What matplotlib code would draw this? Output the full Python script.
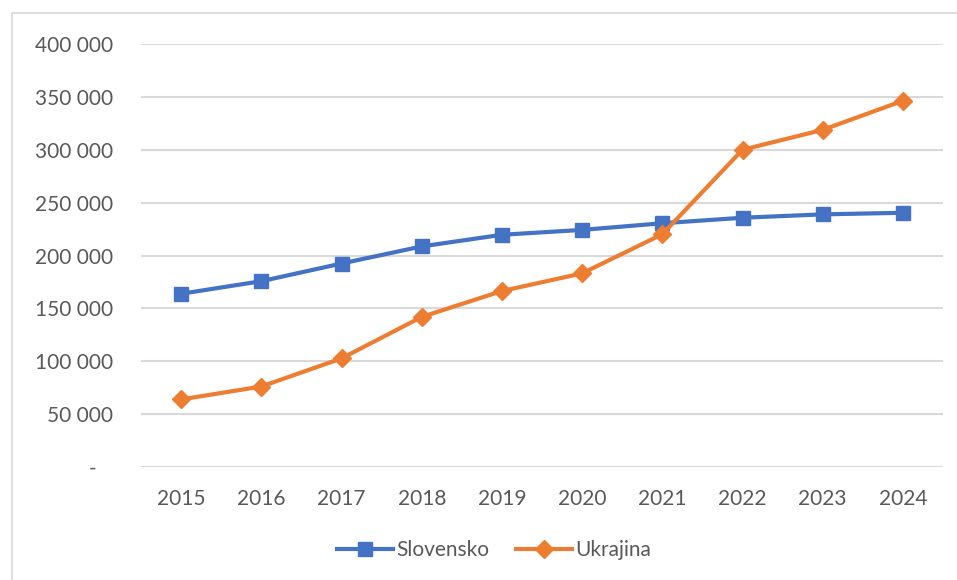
import matplotlib.pyplot as plt
from matplotlib.patches import Rectangle
from matplotlib.ticker import FuncFormatter
from matplotlib.lines import Line2D

years = ['2015', '2016', '2017', '2018', '2019', '2020', '2021', '2022', '2023', '2024']
slovensko = [163800, 175700, 192400, 208600, 219600, 224200, 230500, 235700, 238900, 240400]
ukrajina = [63900, 76100, 102700, 141900, 166400, 183100, 220100, 300000, 318800, 346300]

blue = '#4472C4'
orange = '#ED7D31'
grid = '#D9D9D9'
txt = '#595959'

plt.rcParams['font.family'] = ['Lato', 'DejaVu Sans']

fig = plt.figure(figsize=(9.57, 5.8), dpi=100)
ax = fig.add_axes([141 / 957, 1 - 467 / 580, (943 - 141) / 957, (467 - 44) / 580])

x = range(len(years))
ax.plot(x, slovensko, color=blue, lw=3, marker='s', ms=10, label='Slovensko')
ax.plot(x, ukrajina, color=orange, lw=3, marker='D', ms=9, label='Ukrajina')

ax.set_xlim(-0.5, len(years) - 0.5)
ax.set_ylim(0, 400000)
ax.set_yticks(range(0, 400001, 50000))
ax.yaxis.set_major_formatter(FuncFormatter(
    lambda v, p: '-   ' if v == 0 else f'{int(v):,}'.replace(',', ' ')))
ax.set_xticks(list(x))
ax.set_xticklabels(years)
ax.grid(axis='y', color=grid, lw=1.5)
ax.set_axisbelow(True)
for s in ax.spines.values():
    s.set_visible(False)
ax.tick_params(axis='y', length=0, pad=20, labelsize=15, labelcolor=txt)
ax.tick_params(axis='x', length=0, pad=16, labelsize=15, labelcolor=txt)

# chart frame
fig.patches.append(Rectangle((12 / 957, -0.05), 1.1, 1 - 13 / 580 + 0.05,
                             transform=fig.transFigure, fill=False,
                             edgecolor=grid, lw=1.2))

handles = [Line2D([], [], color=blue, lw=3, marker='s', ms=10),
           Line2D([], [], color=orange, lw=3, marker='D', ms=9)]
fig.legend(handles, ['Slovensko', 'Ukrajina'], loc='center',
           bbox_to_anchor=(494 / 957, 1 - 550 / 580), ncol=2, frameon=False,
           fontsize=15, labelcolor=txt, handlelength=2.7, handletextpad=0.15,
           columnspacing=1.3)

fig.savefig('out.png', dpi=100)
